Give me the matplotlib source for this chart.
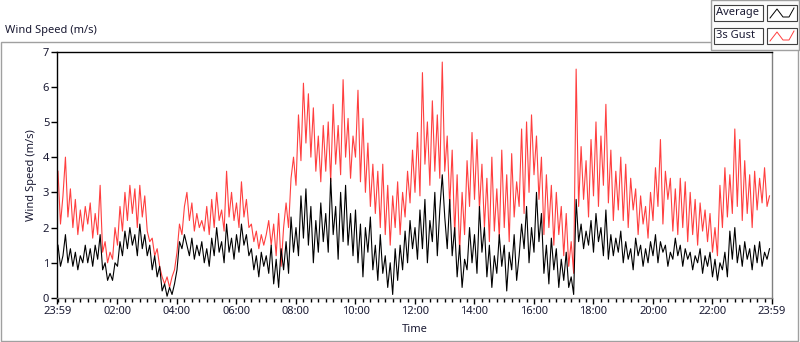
import matplotlib
matplotlib.use("Agg")
import matplotlib.pyplot as plt
from matplotlib.patches import Rectangle
from matplotlib.lines import Line2D
import numpy as np

plt.rcParams['font.family'] = ['Noto Sans', 'DejaVu Sans']

# 5-minute samples, one row per hour, starting 23:59
gust = [
    3.6, 2.1, 2.9, 4.0, 2.3, 3.1, 2.0, 2.8, 1.8, 2.5, 1.9, 2.6,
    2.1, 2.7, 1.7, 2.4, 1.8, 3.2, 1.3, 1.6, 1.0, 1.3, 1.1, 2.0,
    1.5, 2.6, 1.9, 3.0, 2.2, 3.2, 2.4, 3.1, 2.0, 3.2, 2.3, 2.9,
    1.9, 1.6, 1.7, 1.2, 1.4, 0.9, 0.6, 0.4, 0.6, 0.3, 0.6, 0.8,
    1.3, 2.1, 1.8, 2.6, 3.0, 2.2, 2.7, 1.9, 2.4, 2.0, 2.2, 1.9,
    2.6, 1.8, 2.8, 2.0, 3.0, 2.2, 2.5, 1.9, 3.6, 2.3, 3.0, 2.2,
    2.7, 2.0, 3.3, 2.3, 2.8, 2.0, 2.1, 1.6, 1.9, 1.4, 1.8, 1.5,
    1.8, 2.2, 1.5, 2.1, 1.2, 2.4, 0.9, 2.0, 2.7, 2.0, 3.4, 4.0,
    3.2, 5.2, 3.9, 6.1, 4.4, 5.8, 4.0, 5.4, 3.6, 4.6, 3.3, 4.9,
    3.6, 5.0, 3.3, 5.5, 3.8, 4.9, 3.5, 6.2, 4.0, 5.1, 3.4, 4.6,
    4.0, 5.9, 3.3, 5.1, 3.0, 4.4, 2.6, 3.8, 2.4, 3.6, 2.0, 3.8,
    1.8, 3.2, 1.5, 2.9, 2.0, 3.3, 1.8, 3.0, 2.3, 3.6, 2.7, 4.2,
    3.0, 4.7, 2.9, 6.4, 3.8, 5.0, 3.2, 5.6, 3.6, 5.2, 3.4, 6.7,
    3.6, 4.6, 2.6, 4.2, 1.8, 3.5, 1.3, 3.0, 1.8, 3.9, 2.6, 4.7,
    2.8, 4.5, 2.5, 3.8, 2.0, 3.4, 1.6, 4.0, 1.9, 3.1, 1.7, 4.2,
    2.0, 3.5, 1.6, 4.1, 2.3, 3.3, 2.6, 4.8, 2.4, 5.0, 3.0, 5.2,
    3.5, 4.6, 2.8, 4.0, 1.8, 3.5, 2.0, 3.2, 1.5, 3.0, 1.8, 2.6,
    1.2, 2.4, 0.9, 1.6, 0.7, 6.5, 2.6, 4.3, 2.8, 3.9, 2.3, 4.5,
    2.9, 5.0, 2.6, 4.6, 3.2, 5.5, 2.7, 4.2, 2.2, 3.6, 2.5, 4.0,
    2.2, 3.8, 2.0, 3.4, 2.5, 3.1, 1.8, 2.9, 2.1, 2.6, 1.7, 3.0,
    2.2, 3.7, 2.6, 4.5, 2.1, 3.6, 2.8, 3.4, 1.9, 3.1, 1.8, 3.4,
    2.0, 3.3, 1.6, 3.0, 1.8, 2.8, 1.5, 2.7, 1.9, 2.5, 1.6, 2.4,
    1.3, 2.0, 1.2, 3.2, 2.0, 3.7, 2.3, 3.5, 2.4, 4.8, 2.6, 4.5,
    2.2, 3.9, 2.4, 3.5, 2.0, 3.6, 2.5, 3.4, 2.7, 3.7, 2.6, 2.9,
]

average = [
    1.5, 0.9, 1.2, 1.8, 1.0, 1.4, 0.9, 1.3, 0.8, 1.2, 1.0, 1.5,
    1.0, 1.4, 0.9, 1.5, 1.1, 1.8, 0.8, 1.0, 0.5, 0.7, 0.5, 1.0,
    0.9, 1.6, 1.2, 1.9, 1.4, 2.0, 1.5, 1.8, 1.2, 2.1, 1.4, 1.8,
    1.2, 1.5, 0.8, 1.2, 0.6, 0.9, 0.2, 0.4, 0.05, 0.3, 0.1, 0.4,
    0.8, 1.6, 1.4, 1.8, 1.5, 1.2, 1.7, 1.1, 1.5, 1.2, 1.6, 1.0,
    1.4, 0.9, 1.7, 1.2, 2.0, 1.3, 1.6, 1.0, 2.1, 1.3, 1.7, 1.1,
    1.8, 1.3, 2.1, 1.5, 1.8, 1.2, 1.4, 0.8, 1.2, 0.6, 1.3, 0.9,
    1.2, 0.7, 1.5, 0.4, 1.1, 0.3, 1.4, 0.8, 1.6, 0.7, 2.3, 1.3,
    2.0, 1.2, 2.9, 1.7, 3.1, 1.5, 2.6, 1.0, 2.2, 1.3, 2.7, 1.6,
    2.4, 1.3, 3.4, 1.8, 2.6, 1.1, 3.0, 1.6, 3.2, 1.5, 2.4, 1.2,
    2.5, 1.0, 2.1, 0.6, 2.0, 1.3, 2.3, 0.8, 1.5, 0.5, 1.8, 0.7,
    1.2, 0.3, 1.0, 0.1, 1.4, 0.5, 1.5, 0.8, 1.9, 1.0, 2.2, 1.4,
    2.0, 1.1, 2.5, 1.4, 2.8, 1.0, 2.2, 1.6, 3.0, 1.2, 2.5, 3.5,
    2.3, 1.4, 2.8, 1.2, 2.0, 0.6, 1.5, 0.3, 1.1, 0.8, 2.0, 1.0,
    1.8, 0.7, 2.6, 1.3, 2.0, 0.6, 1.5, 0.3, 1.2, 0.7, 1.8, 0.9,
    1.5, 0.2, 1.3, 0.8, 1.8, 0.5, 1.2, 2.1, 1.4, 2.6, 1.0, 2.0,
    1.3, 3.0, 1.6, 2.4, 0.7, 1.5, 0.4, 1.7, 0.8, 1.4, 0.3, 1.1,
    0.5, 1.3, 0.3, 0.6, 0.1, 2.8, 1.6, 2.1, 1.4, 1.9, 1.5, 2.2,
    1.3, 2.4, 1.6, 2.0, 1.2, 2.5, 1.1, 1.8, 1.2, 1.7, 1.3, 1.9,
    1.0, 1.6, 1.1, 1.4, 0.8, 1.7, 1.2, 1.5, 0.9, 1.4, 1.0, 1.6,
    1.2, 1.8, 1.0, 1.6, 1.3, 1.5, 0.9, 1.3, 1.1, 1.7, 1.2, 1.5,
    0.9, 1.4, 1.1, 1.3, 0.8, 1.2, 1.0, 1.4, 0.7, 1.2, 0.9, 1.3,
    0.6, 1.1, 0.5, 1.0, 0.8, 1.3, 0.6, 1.9, 1.1, 2.0, 1.0, 1.5,
    0.9, 1.6, 1.1, 1.4, 0.8, 1.5, 1.0, 1.6, 0.9, 1.3, 1.1, 1.4,
]

step_minutes = 5
tick_labels = ['23:59', '02:00', '04:00', '06:00', '08:00', '10:00', '12:00',
               '14:00', '16:00', '18:00', '20:00', '22:00', '23:59']
y_ticks = [0, 1, 2, 3, 4, 5, 6, 7]

t = np.arange(len(gust)) * step_minutes / 60.0

txt = '#1a1a33'
fig = plt.figure(figsize=(8.0, 3.42), dpi=100)
W, H = 800, 342

def fx(px):
    return px / W

def fy(py):
    return 1 - py / H

# outer frame
fig.add_artist(Rectangle((fx(1), fy(341)), fx(797), 299 / H, transform=fig.transFigure,
                         fill=False, edgecolor='#a0a0a0', lw=1.0))
fig.text(fx(5), fy(31), 'Wind Speed (m/s)', fontsize=8, color=txt, va='center', ha='left')

# legend panel
fig.add_artist(Rectangle((fx(711), fy(50)), fx(88), 50 / H, transform=fig.transFigure,
                         facecolor='#fafafa', edgecolor='#a0a0a0', lw=1.0))
for row, (name, col) in enumerate([('Average', 'black'), ('3s Gust', '#ff3f3f')]):
    y0 = 5 + row * 23
    fig.add_artist(Rectangle((fx(714), fy(y0 + 16)), fx(49), 16 / H, transform=fig.transFigure,
                             facecolor='white', edgecolor='#404040', lw=0.8))
    fig.text(fx(716), fy(y0 + 8), name, fontsize=8, color=txt, va='center', ha='left')
    fig.add_artist(Rectangle((fx(767), fy(y0 + 16)), fx(30), 16 / H, transform=fig.transFigure,
                             facecolor='white', edgecolor='#404040', lw=0.8))
    xs = [770, 777, 783, 789, 794]
    ys = [y0 + 13, y0 + 4, y0 + 12, y0 + 12, y0 + 3]
    fig.add_artist(Line2D([fx(v) for v in xs], [fy(v) for v in ys], transform=fig.transFigure,
                          color=col, lw=0.7))

ax = fig.add_axes([fx(57.5), fy(298), fx(771.5 - 57.5), (298 - 51.5) / H])
ax.plot(t, gust, color='#ff3f3f', lw=0.8)
ax.plot(t, average, color='black', lw=0.8)

x0 = -1 / 60
ax.set_xlim(x0, 24 + x0)
ax.set_ylim(0, 7)
major = [x0] + [2 * k for k in range(1, 12)] + [24 + x0]
ax.set_xticks(major)
ax.set_xticklabels(tick_labels)
ax.set_xticks(np.arange(0, 24, 0.25), minor=True)
ax.set_yticks(y_ticks)
ax.tick_params(axis='both', which='major', labelsize=8, colors='black', labelcolor=txt,
               length=4, width=1, pad=2)
ax.tick_params(axis='x', which='minor', length=3, width=1, color='black')
ax.spines['top'].set_color('black')
ax.spines['left'].set_color('black')
ax.spines['right'].set_color('#808080')
ax.spines['bottom'].set_color('#808080')
for s in ax.spines.values():
    s.set_linewidth(1.0)
ax.set_ylabel('Wind Speed (m/s)', fontsize=8, color=txt, labelpad=4)
ax.set_xlabel('Time', fontsize=8, color=txt, labelpad=5)

fig.savefig('out.png', dpi=100)
